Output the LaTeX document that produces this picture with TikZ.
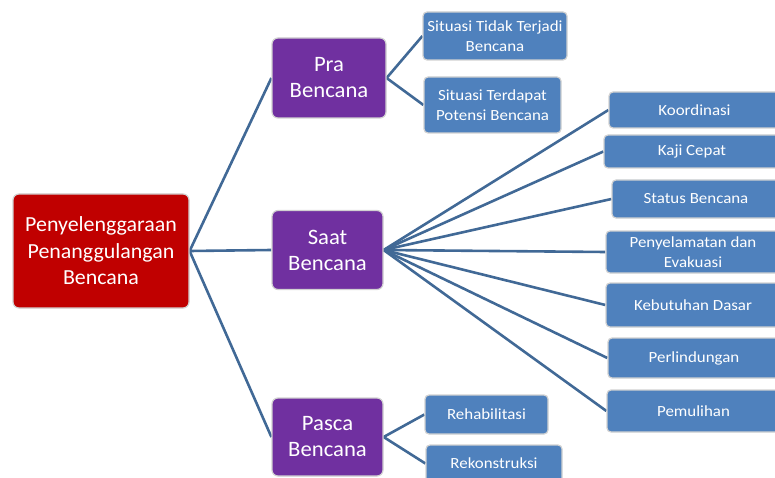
\documentclass[tikz,border=0pt]{standalone}
\usepackage{fontspec}
\setmainfont{Carlito}
\newfontfamily\leaffont[FakeStretch=1.09]{Carlito}
\newfontfamily\bigfont[FakeStretch=1.03]{Carlito}
\newfontfamily\rootfont[FakeStretch=1.02]{Carlito}
\usetikzlibrary{backgrounds}
\definecolor{rootred}{RGB}{192,0,0}
\definecolor{purp}{RGB}{112,48,160}
\definecolor{bluebox}{RGB}{79,129,189}
\definecolor{edgeblue}{RGB}{65,105,150}
\tikzset{
  box/.style={draw=black!18, line width=1.2pt, rounded corners=6pt, text=white, align=center, inner sep=2pt},
  rootbox/.style={box, fill=rootred, font=\rootfont\fontsize{21.5}{26.5}\selectfont},
  midbox/.style={box, fill=purp, font=\bigfont\fontsize{22}{26}\selectfont},
  leafbox/.style={box, fill=bluebox, rounded corners=4pt, font=\leaffont\fontsize{15.5}{19.5}\selectfont},
  link/.style={draw=edgeblue, line width=2.6pt}
}
\begin{document}
\begin{tikzpicture}[x=1pt,y=1pt]
\useasboundingbox (0,0) rectangle (775,477);
\clip (0,0) rectangle (775,477);
\node[rootbox, minimum width=176pt, minimum height=114pt] (root) at (101,226) {Penyelenggaraan\\Penanggulangan\\Bencana};
\node[midbox, minimum width=114pt, minimum height=80pt] (pra) at (329,399) {Pra\\Bencana};
\node[midbox, minimum width=111pt, minimum height=79pt] (saat) at (327.5,227) {Saat\\Bencana};
\node[midbox, minimum width=111pt, minimum height=78pt] (pasca) at (327.5,40) {Pasca\\Bencana};
\node[leafbox, minimum width=144pt, minimum height=48pt] (s1) at (495,441) {Situasi Tidak Terjadi\\Bencana};
\node[leafbox, minimum width=137pt, minimum height=56pt] (s2) at (492.5,372) {Situasi Terdapat\\Potensi Bencana};
\node[leafbox, minimum width=171pt, minimum height=36pt] (k1) at (694.5,367) {Koordinasi};
\node[leafbox, minimum width=176pt, minimum height=33pt] (k2) at (692,325.5) {Kaji Cepat};
\node[leafbox, minimum width=168pt, minimum height=38pt] (k3) at (696,278) {Status Bencana};
\node[leafbox, minimum width=174pt, minimum height=42pt] (k4) at (693,225) {Penyelamatan dan\\Evakuasi};
\node[leafbox, minimum width=174pt, minimum height=44pt] (k5) at (693,172) {Kebutuhan Dasar};
\node[leafbox, minimum width=172pt, minimum height=40pt] (k6) at (694,119) {Perlindungan};
\node[leafbox, minimum width=173pt, minimum height=42pt] (k7) at (693.5,66) {Pemulihan};
\node[leafbox, minimum width=123pt, minimum height=39pt] (r1) at (486.5,62.5) {Rehabilitasi};
\node[leafbox, minimum width=136pt, minimum height=37pt] (r2) at (494,13.5) {Rekonstruksi};
\begin{pgfonlayer}{background}
\foreach \c in {pra,saat,pasca} \draw[link] (root.east) -- (\c.west);
\foreach \c in {s1,s2} \draw[link] (pra.east) -- (\c.west);
\foreach \c in {k1,k2,k3,k4,k5,k6,k7} \draw[link] (saat.east) -- (\c.west);
\foreach \c in {r1,r2} \draw[link] (pasca.east) -- (\c.west);
\end{pgfonlayer}
\end{tikzpicture}
\end{document}
